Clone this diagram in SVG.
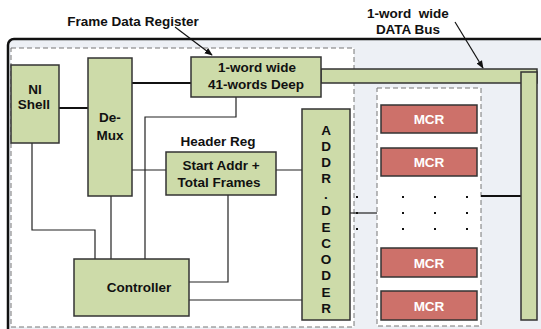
<svg xmlns="http://www.w3.org/2000/svg" width="541" height="329" viewBox="0 0 541 329">
<defs>
<style>
text{font-family:"Liberation Sans",Arial,sans-serif;font-weight:bold;font-size:13.5px;fill:#111;text-anchor:middle}
.g{fill:#cddba9;stroke:#333;stroke-width:1.5}
.m{fill:#cd716a;stroke:#333;stroke-width:1.5}
.mt{fill:#fff}
.dash{fill:#fff;stroke:#777;stroke-width:1;stroke-dasharray:5,3}
.w{fill:none;stroke:#222;stroke-width:1.2}
.t{fill:none;stroke:#111;stroke-width:2.2}
.dot{fill:#111}
</style>
<marker id="ah" viewBox="0 0 10 10" refX="9" refY="5" markerWidth="8" markerHeight="8" orient="auto-start-reverse" markerUnits="userSpaceOnUse"><path d="M0,1 L10,5 L0,9 z" fill="#111"/></marker>
</defs>
<rect width="541" height="329" fill="#fff"/>
<rect x="8" y="39" width="620" height="400" rx="6" fill="#edf0f5" stroke="#111" stroke-width="2.5"/>
<rect class="dash" x="11" y="48" width="343" height="279"/>
<rect class="dash" x="377" y="88" width="104" height="238"/>

<g id="connectors">
<line class="t" x1="54" y1="108" x2="88" y2="108"/>
<line class="t" x1="132" y1="83" x2="191" y2="83"/>
<polyline class="w" points="236,97 236,117 145,117 145,259"/>
<line class="w" x1="132" y1="170" x2="166" y2="170"/>
<line class="w" x1="269" y1="170" x2="303" y2="170"/>
<polyline class="w" points="32,143 32,230 95,230 95,259"/>
<line class="w" x1="111" y1="196" x2="111" y2="259"/>
<polyline class="w" points="228,195 228,282 189,282"/>
<line class="w" x1="189" y1="300" x2="303" y2="300"/>
<line class="w" x1="350" y1="213" x2="377" y2="213"/>
<line class="t" x1="481" y1="196" x2="521" y2="196"/>
<line stroke="#111" stroke-width="1.2" x1="175" y1="27" x2="212" y2="55" marker-end="url(#ah)"/>
<line stroke="#111" stroke-width="1.2" x1="455" y1="22" x2="483" y2="68" marker-end="url(#ah)"/>
</g>

<g id="data-bus">
<rect class="g" x="321" y="69" width="216" height="14"/>
<rect class="g" x="521" y="72" width="16" height="248"/>
</g>

<g id="ni-shell">
<rect class="g" x="11" y="65" width="48" height="78"/>
<text x="35" y="94">NI</text>
<text x="34" y="109">Shell</text>
</g>

<g id="demux">
<rect class="g" x="88" y="58" width="44" height="138"/>
<text x="110" y="122">De-</text>
<text x="110" y="140">Mux</text>
</g>

<g id="frame-data-register">
<rect class="g" x="191" y="57" width="130" height="40"/>
<text x="257" y="72">1-word wide</text>
<text x="256" y="89">41-words Deep</text>
</g>

<g id="header-reg">
<rect class="g" x="166" y="152" width="110" height="43"/>
<text x="221" y="170">Start Addr +</text>
<text x="219" y="187">Total Frames</text>
</g>

<g id="controller">
<rect class="g" x="74" y="259" width="115" height="57"/>
<text x="139" y="292">Controller</text>
</g>

<g id="addr-decoder">
<rect class="g" x="302" y="109" width="48" height="211"/>
<text x="326" y="135">A</text>
<text x="326" y="151">D</text>
<text x="326" y="167">D</text>
<text x="326" y="183">R</text>
<text x="326" y="199">.</text>
<text x="326" y="215">D</text>
<text x="326" y="232">E</text>
<text x="326" y="248">C</text>
<text x="326" y="264">O</text>
<text x="326" y="280">D</text>
<text x="326" y="297">E</text>
<text x="326" y="313">R</text>
</g>

<g id="mcr1"><rect class="m" x="381" y="105" width="96" height="28"/><text class="mt" x="429" y="124">MCR</text></g>
<g id="mcr2"><rect class="m" x="381" y="148" width="96" height="28"/><text class="mt" x="429" y="167">MCR</text></g>
<g id="mcr3"><rect class="m" x="381" y="248" width="96" height="29"/><text class="mt" x="429" y="268">MCR</text></g>
<g id="mcr4"><rect class="m" x="381" y="291" width="96" height="29"/><text class="mt" x="429" y="311">MCR</text></g>

<g id="dots">
<rect class="dot" x="356" y="196" width="2" height="2"/>
<rect class="dot" x="356" y="212" width="2" height="2"/>
<rect class="dot" x="356" y="228" width="2" height="2"/>
<rect class="dot" x="402" y="196" width="2" height="2"/>
<rect class="dot" x="434" y="196" width="2" height="2"/>
<rect class="dot" x="466" y="196" width="2" height="2"/>
<rect class="dot" x="402" y="212" width="2" height="2"/>
<rect class="dot" x="434" y="212" width="2" height="2"/>
<rect class="dot" x="466" y="212" width="2" height="2"/>
<rect class="dot" x="402" y="228" width="2" height="2"/>
<rect class="dot" x="434" y="228" width="2" height="2"/>
<rect class="dot" x="466" y="228" width="2" height="2"/>
</g>

<g id="labels">
<text x="133" y="26">Frame Data Register</text>
<text x="408" y="18">1-word&#160; wide</text>
<text x="408" y="34">DATA Bus</text>
<text x="218" y="146">Header Reg</text>
</g>
</svg>
